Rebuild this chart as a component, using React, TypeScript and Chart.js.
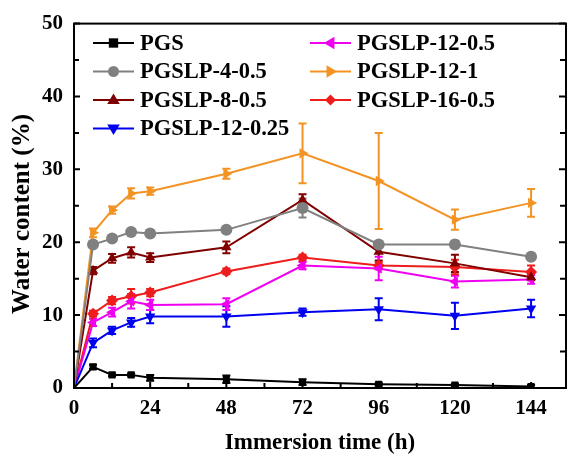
import React, { useEffect, useRef } from "react";
import { Chart, registerables } from "chart.js";

Chart.register(...registerables);

const times = [0, 6, 12, 18, 24, 48, 72, 96, 120, 144];
const xTicks = [0, 24, 48, 72, 96, 120, 144];
const yTicks = [0, 10, 20, 30, 40, 50];

const pgs = [0, 2.9, 1.8, 1.8, 1.4, 1.2, 0.8, 0.5, 0.4, 0.2];
const pgsErr = [0, 0.3, 0.2, 0.2, 0.4, 0.5, 0.4, 0.2, 0.2, 0.2];
const p4_05 = [0, 19.7, 20.5, 21.4, 21.2, 21.7, 24.7, 19.7, 19.7, 18.0];
const p4_05Err = [0, 0.3, 0.3, 0.3, 0.3, 0.3, 1.3, 0.3, 0.5, 0.3];
const p8_05 = [0, 16.1, 17.8, 18.6, 17.9, 19.3, 25.8, 18.7, 17.1, 15.2];
const p8_05Err = [0, 0.5, 0.6, 0.7, 0.6, 0.8, 0.8, 1.2, 1.2, 0.4];
const p12_025 = [0, 6.2, 7.9, 9.0, 9.8, 9.8, 10.4, 10.8, 9.9, 10.9];
const p12_025Err = [0, 0.6, 0.5, 0.6, 0.9, 1.4, 0.5, 1.5, 1.8, 1.2];
const p12_05 = [0, 9.0, 10.4, 11.9, 11.4, 11.5, 16.8, 16.4, 14.6, 14.9];
const p12_05Err = [0, 0.5, 0.6, 1.0, 0.7, 0.8, 0.5, 1.6, 0.8, 0.6];
const p12_1 = [0, 21.3, 24.4, 26.7, 27.0, 29.4, 32.2, 28.4, 23.1, 25.4];
const p12_1Err = [0, 0.6, 0.5, 0.7, 0.5, 0.7, 4.1, 6.6, 1.4, 1.9];
const p16_05 = [0, 10.2, 12.0, 12.6, 13.1, 16.0, 17.9, 16.8, 16.6, 15.9];
const p16_05Err = [0, 0.4, 0.5, 1.0, 0.5, 0.4, 0.4, 0.5, 1.0, 0.9];

const FONT = "'Liberation Serif', 'Times New Roman', serif";
const yTitle = "Water content (%)";

type S = {
  label: string;
  data: number[];
  err: number[];
  color: string;
  style: string;
  rot: number;
};

const series: S[] = [
  { label: "PGS", data: pgs, err: pgsErr, color: "#000000", style: "rect", rot: 0 },
  { label: "PGSLP-4-0.5", data: p4_05, err: p4_05Err, color: "#808080", style: "circle", rot: 0 },
  { label: "PGSLP-8-0.5", data: p8_05, err: p8_05Err, color: "#800000", style: "triangle", rot: 0 },
  { label: "PGSLP-12-0.25", data: p12_025, err: p12_025Err, color: "#0000F0", style: "triangle", rot: 180 },
  { label: "PGSLP-12-0.5", data: p12_05, err: p12_05Err, color: "#F000F0", style: "triangle", rot: -90 },
  { label: "PGSLP-12-1", data: p12_1, err: p12_1Err, color: "#F39323", style: "triangle", rot: 90 },
  { label: "PGSLP-16-0.5", data: p16_05, err: p16_05Err, color: "#EE1C1C", style: "rectRot", rot: 0 },
];

const errorBars = {
  id: "errorBars",
  beforeDatasetsDraw(chart: any) {
    const ctx = chart.ctx;
    const ys = chart.scales.y;
    chart.data.datasets.forEach((ds: any, di: number) => {
      const meta = chart.getDatasetMeta(di);
      const err: number[] = ds.errData;
      ctx.save();
      ctx.strokeStyle = ds.borderColor;
      ctx.lineWidth = 2;
      meta.data.forEach((pt: any, i: number) => {
        const e = err[i];
        if (!e) return;
        const d = ds.data[i];
        const v = typeof d === "number" ? d : d.y;
        const t = ys.getPixelForValue(v + e);
        const b = ys.getPixelForValue(v - e);
        ctx.beginPath();
        ctx.moveTo(pt.x, t);
        ctx.lineTo(pt.x, b);
        ctx.moveTo(pt.x - 4, t);
        ctx.lineTo(pt.x + 4, t);
        ctx.moveTo(pt.x - 4, b);
        ctx.lineTo(pt.x + 4, b);
        ctx.stroke();
      });
      ctx.restore();
    });
  },
};

function drawMarker(ctx: CanvasRenderingContext2D, style: string, rot: number, x: number, y: number, r: number, color: string) {
  ctx.save();
  ctx.translate(x, y);
  ctx.rotate((rot * Math.PI) / 180);
  ctx.fillStyle = color;
  ctx.beginPath();
  if (style === "rect") {
    const s = r * 0.85;
    ctx.rect(-s, -s, 2 * s, 2 * s);
  } else if (style === "circle") {
    ctx.arc(0, 0, r, 0, Math.PI * 2);
  } else if (style === "rectRot") {
    ctx.moveTo(0, -r);
    ctx.lineTo(r, 0);
    ctx.lineTo(0, r);
    ctx.lineTo(-r, 0);
    ctx.closePath();
  } else {
    const h = r * 1.2;
    ctx.moveTo(0, -h);
    ctx.lineTo(h * 0.95, h * 0.6);
    ctx.lineTo(-h * 0.95, h * 0.6);
    ctx.closePath();
  }
  ctx.fill();
  ctx.restore();
}

const frame = {
  id: "frame",
  afterDraw(chart: any) {
    const ctx = chart.ctx;
    const a = chart.chartArea;
    const xs = chart.scales.x;
    const ys = chart.scales.y;
    ctx.save();
    ctx.strokeStyle = "#000";
    ctx.lineWidth = 2;
    ctx.strokeRect(a.left, a.top, a.right - a.left, a.bottom - a.top);
    ctx.beginPath();
    for (let v = 0; v <= 150; v += 12) {
      const x = xs.getPixelForValue(v);
      const len = v % 24 === 0 ? 6 : 5;
      ctx.moveTo(x, a.bottom);
      ctx.lineTo(x, a.bottom - len);
    }
    for (let v = 0; v <= 50; v += 5) {
      const y = ys.getPixelForValue(v);
      const len = v % 10 === 0 ? 6 : 5;
      ctx.moveTo(a.left, y);
      ctx.lineTo(a.left + len, y);
      ctx.moveTo(a.right, y);
      ctx.lineTo(a.right - len - 1, y);
    }
    ctx.stroke();

    // y axis title
    ctx.save();
    ctx.translate(23, 214);
    ctx.rotate(-Math.PI / 2);
    ctx.font = `bold 25px ${FONT}`;
    ctx.fillStyle = "#000";
    ctx.textAlign = "center";
    ctx.textBaseline = "middle";
    ctx.fillText(yTitle, 0, 0);
    ctx.restore();

    // legend
    const cols = [
      { lx: 93, tx: 140, items: [0, 1, 2, 3] },
      { lx: 310, tx: 357, items: [4, 5, 6] },
    ];
    ctx.font = `bold 22.5px ${FONT}`;
    ctx.textBaseline = "middle";
    ctx.textAlign = "left";
    cols.forEach((c) => {
      c.items.forEach((idx, r) => {
        const s = series[idx];
        const y = 43 + r * 28.5;
        ctx.strokeStyle = s.color;
        ctx.lineWidth = 2;
        ctx.beginPath();
        ctx.moveTo(c.lx, y);
        ctx.lineTo(c.lx + 41, y);
        ctx.stroke();
        drawMarker(ctx, s.style, s.rot, c.lx + 20.5, y, 5.5, s.color);
        ctx.fillStyle = "#000";
        ctx.fillText(s.label, c.tx, y + 1);
      });
    });
    ctx.restore();
  },
};

export default function App() {
  const ref = useRef<HTMLCanvasElement>(null);
  useEffect(() => {
    if (!ref.current) return;
    const chart = new Chart(ref.current, {
      type: "line",
      data: {
        datasets: series.map((s) => ({
          label: s.label,
          data: s.data.map((v, i) => ({ x: times[i], y: v })),
          errData: s.err,
          borderColor: s.color,
          backgroundColor: s.color,
          borderWidth: 2,
          pointStyle: s.style,
          pointRotation: s.rot,
          pointRadius: (c: any) => (c.dataIndex === 0 ? 0 : s.style === "rect" ? 5 : 6),
          pointBorderWidth: 0,
          tension: 0,
        })) as any,
      },
      options: {
        animation: false,
        responsive: false,
        layout: { padding: { left: 0, right: 0, top: 22, bottom: 0 } },
        plugins: { legend: { display: false }, tooltip: { enabled: false } },
        scales: {
          x: {
            type: "linear",
            min: 0,
            max: 155,
            afterBuildTicks: (sc: any) => {
              sc.ticks = xTicks.map((v) => ({ value: v }));
            },
            afterFit: (sc: any) => {
              sc.height = 70;
            },
            grid: { display: false, drawTicks: false },
            border: { display: false },
            ticks: {
              color: "#000",
              padding: 8,
              maxRotation: 0,
              autoSkip: false,
              font: { family: FONT, size: 21, weight: "bold" },
            },
            title: {
              display: true,
              text: "Immersion time (h)",
              color: "#000",
              font: { family: FONT, size: 23, weight: "bold" },
              padding: { top: 0, bottom: 1 },
            },
          },
          y: {
            min: 0,
            max: 50,
            afterBuildTicks: (sc: any) => {
              sc.ticks = yTicks.map((v) => ({ value: v }));
            },
            afterFit: (sc: any) => {
              sc.width = 74;
            },
            grid: { display: false, drawTicks: false },
            border: { display: false },
            ticks: {
              color: "#000",
              padding: 11,
              autoSkip: false,
              font: { family: FONT, size: 21, weight: "bold" },
            },
            title: { display: false },
          },
        },
      } as any,
      plugins: [errorBars, frame],
    });
    return () => chart.destroy();
  }, []);
  return (
    <div style={{ position: "fixed", left: 0, top: 0, width: 569, height: 458, overflow: "hidden", background: "#fff" }}>
      <canvas ref={ref} width={572} height={458} style={{ display: "block" }} />
    </div>
  );
}
